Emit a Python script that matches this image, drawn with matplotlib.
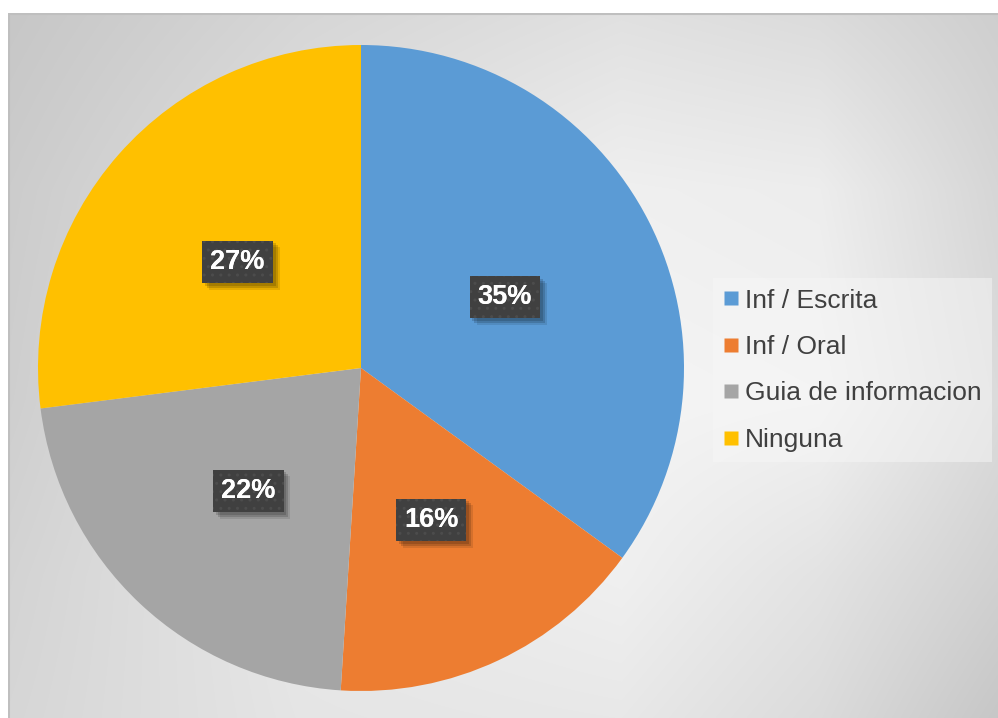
import numpy as np
import matplotlib
matplotlib.use("Agg")
import matplotlib.pyplot as plt
from matplotlib.lines import Line2D
import matplotlib.patheffects as pe

categories = ["Inf / Escrita", "Inf / Oral", "Guia de informacion", "Ninguna"]
values = [35, 16, 22, 27]
colors = ["#5B9BD5", "#ED7D31", "#A5A5A5", "#FFC000"]

W, H = 998, 718
fig = plt.figure(figsize=(W / 100, H / 100), dpi=100)
fig.patch.set_facecolor("white")

# Chart area background: soft grey shading, lighter towards the middle
x0, top = 8, 13
gw, gh = W - x0, H - top
bg_ax = fig.add_axes([x0 / W, 0, gw / W, gh / H])
bg_ax.set_axis_off()
shade_u = np.array([0.0, 0.3, 0.62, 0.82, 1.0])
shade_v = np.array([0.0, 0.25, 0.55, 0.8, 1.0])
shade = np.array([
    [0.78, 0.84, 0.88, 0.86, 0.81],
    [0.80, 0.88, 0.94, 0.93, 0.84],
    [0.81, 0.91, 0.96, 0.95, 0.86],
    [0.83, 0.91, 0.94, 0.89, 0.82],
    [0.84, 0.90, 0.91, 0.86, 0.78],
])
u = np.linspace(0, 1, gw)
v = np.linspace(0, 1, gh)
rows = np.array([np.interp(u, shade_u, r) for r in shade])
level = np.array([np.interp(v, shade_v, rows[:, i]) for i in range(gw)]).T
img = np.dstack([level, level, level])
bg_ax.imshow(img, extent=[0, 1, 0, 1], aspect="auto", interpolation="bilinear")
bg_ax.set_xlim(0, 1)
bg_ax.set_ylim(0, 1)
bg_ax.plot([0.001, 0.001, 1], [0, 0.999, 0.999], color="#bfbfbf", lw=1.5,
           transform=bg_ax.transAxes)

# Pie
R = 323
pcx, pcy = 361, H - 368
ax = fig.add_axes([(pcx - R) / W, (pcy - R) / H, 2 * R / W, 2 * R / H])
ax.set_axis_off()
ax.pie(values, colors=colors, startangle=90, counterclock=False,
       wedgeprops=dict(linewidth=0), radius=1.0)
ax.set_xlim(-1, 1)
ax.set_ylim(-1, 1)
ax.set_aspect("equal")

# Data labels in dark boxes with a soft drop shadow and a faint dot texture
total = float(sum(values))
start = 90.0
label_r = [0.50, 0.51, 0.51, 0.51]
text_kw = dict(ha="center", va="center", color="white", fontsize=19.5,
               fontweight="bold", family=["Liberation Sans", "DejaVu Sans"])
for val, r in zip(values, label_r):
    span = 360.0 * val / total
    mid = np.deg2rad(start - span / 2)
    start -= span
    lx, ly = r * np.cos(mid), r * np.sin(mid) - 0.008
    t = ax.text(lx, ly, f"{val}%",
                bbox=dict(boxstyle="square,pad=0.3", facecolor="#404040",
                          edgecolor="none", linewidth=0), **text_kw)
    t.get_bbox_patch().set_path_effects([
        pe.SimplePatchShadow(offset=(5, -5), shadow_rgbFace="black", alpha=0.10),
        pe.SimplePatchShadow(offset=(3.5, -3.5), shadow_rgbFace="black", alpha=0.15),
        pe.SimplePatchShadow(offset=(2, -2), shadow_rgbFace="black", alpha=0.15),
        pe.Normal()])
    ax.text(lx, ly, f"{val}%",
            bbox=dict(boxstyle="square,pad=0.3", facecolor="none",
                      edgecolor="#4c4c4c", linewidth=0, hatch=".."),
            **text_kw)

# Legend
handles = [Line2D([], [], marker="s", linestyle="none", markersize=10,
                  markerfacecolor=c, markeredgecolor="none") for c in colors]
leg = fig.legend(handles, categories, loc="upper left",
                 bbox_to_anchor=(713 / W, 1 - 278 / H),
                 frameon=True, fancybox=False, framealpha=0.5,
                 facecolor="#f6f6f6", edgecolor="none",
                 prop=dict(family=["Liberation Sans", "DejaVu Sans"], size=19),
                 labelcolor="#404040", handlelength=0.55, handletextpad=0.25,
                 labelspacing=0.85, borderpad=0.4, borderaxespad=0)

fig.savefig("out.png", dpi=100)
